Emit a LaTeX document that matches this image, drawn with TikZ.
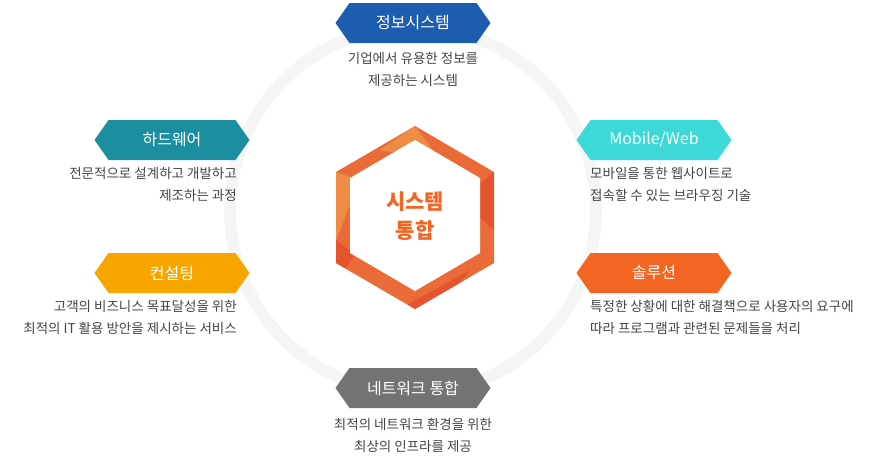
\documentclass[tikz,border=0pt]{standalone}
\usepackage{fontspec}
\setmainfont{Noto Sans CJK KR}
\usetikzlibrary{shapes.symbols}
\definecolor{infoblue}{HTML}{1C5DB0}
\definecolor{mobcyan}{HTML}{3DD8D8}
\definecolor{solorange}{HTML}{F26522}
\definecolor{netgray}{HTML}{737373}
\definecolor{conyellow}{HTML}{F7A600}
\definecolor{hwteal}{HTML}{1B8FA0}
\definecolor{desctext}{HTML}{444444}
\definecolor{hexorange}{HTML}{EA6B38}
\definecolor{hexlight}{HTML}{EE8C45}
\definecolor{hexdark}{HTML}{E5532F}

\begin{document}
\begin{tikzpicture}[x=1pt,y=-1pt]
    \tikzstyle{banner}=[signal, signal to=east and west, signal pointer angle=110,
        minimum width=155pt, minimum height=40pt, inner sep=0pt, text=white,
        font=\fontsize{16}{18}\selectfont]
    \tikzstyle{desc}=[text=desctext, font=\fontsize{13.5}{22}\selectfont, inner sep=0pt]
    \useasboundingbox (0,0) rectangle (884,458);
    % ring
    \draw [gray!8, line width=12pt] (413,210) circle (183);
    % centre hexagon
    \begin{scope}
    \clip (415,126) -- (494,172) -- (494,263) -- (415,309) -- (336,263) -- (336,172) -- cycle;
    \fill [hexorange] (330,120) rectangle (500,315);
    \fill [hexlight] (415,126) -- (380,150) -- (440,160) -- cycle;
    \fill [hexdark] (494,172) -- (460,200) -- (494,230) -- cycle;
    \fill [hexlight] (336,172) -- (360,180) -- (336,240) -- cycle;
    \fill [hexdark] (336,240) -- (355,255) -- (336,280) -- cycle;
    \fill [hexlight] (336,263) -- (400,300) -- (360,285) -- cycle;
    \fill [hexdark] (400,309) -- (470,270) -- (440,309) -- cycle;
    \end{scope}
    \fill [white] (415,140) -- (480,178) -- (480,253) -- (415,291) -- (350,253) -- (350,178) -- cycle;
    \node [text=solorange, align=center, font=\fontsize{21}{29}\selectfont\bfseries] (core) at (415,216) {시스템\\통합};
    % banners
    \node [banner, fill=infoblue] (info) at (413,23) {정보시스템};
    \node [desc, align=center, anchor=north] (infod) at (413,52) {기업에서 유용한 정보를\\제공하는 시스템};
    \node [banner, fill=hwteal] (hw) at (172,140) {하드웨어};
    \node [desc, align=right, anchor=north east] (hwd) at (237,167) {전문적으로 설계하고 개발하고\\제조하는 과정};
    \node [banner, fill=conyellow] (con) at (172,273) {컨설팅};
    \node [desc, align=right, anchor=north east] (cond) at (237,300) {고객의 비즈니스 목표달성을 위한\\최적의 IT 활용 방안을 제시하는 서비스};
    \node [banner, fill=mobcyan] (mob) at (654,140) {Mobile/Web};
    \node [desc, align=left, anchor=north west] (mobd) at (590,167) {모바일을 통한 웹사이트로\\접속할 수 있는 브라우징 기술};
    \node [banner, fill=solorange] (sol) at (654,273) {솔루션};
    \node [desc, align=left, anchor=north west] (sold) at (590,300) {특정한 상황에 대한 해결책으로 사용자의 요구에\\따라 프로그램과 관련된 문제들을 처리};
    \node [banner, fill=netgray] (net) at (413,388) {네트워크 통합};
    \node [desc, align=center, anchor=north] (netd) at (413,418) {최적의 네트워크 환경을 위한\\최상의 인프라를 제공};
\end{tikzpicture}
\end{document}
